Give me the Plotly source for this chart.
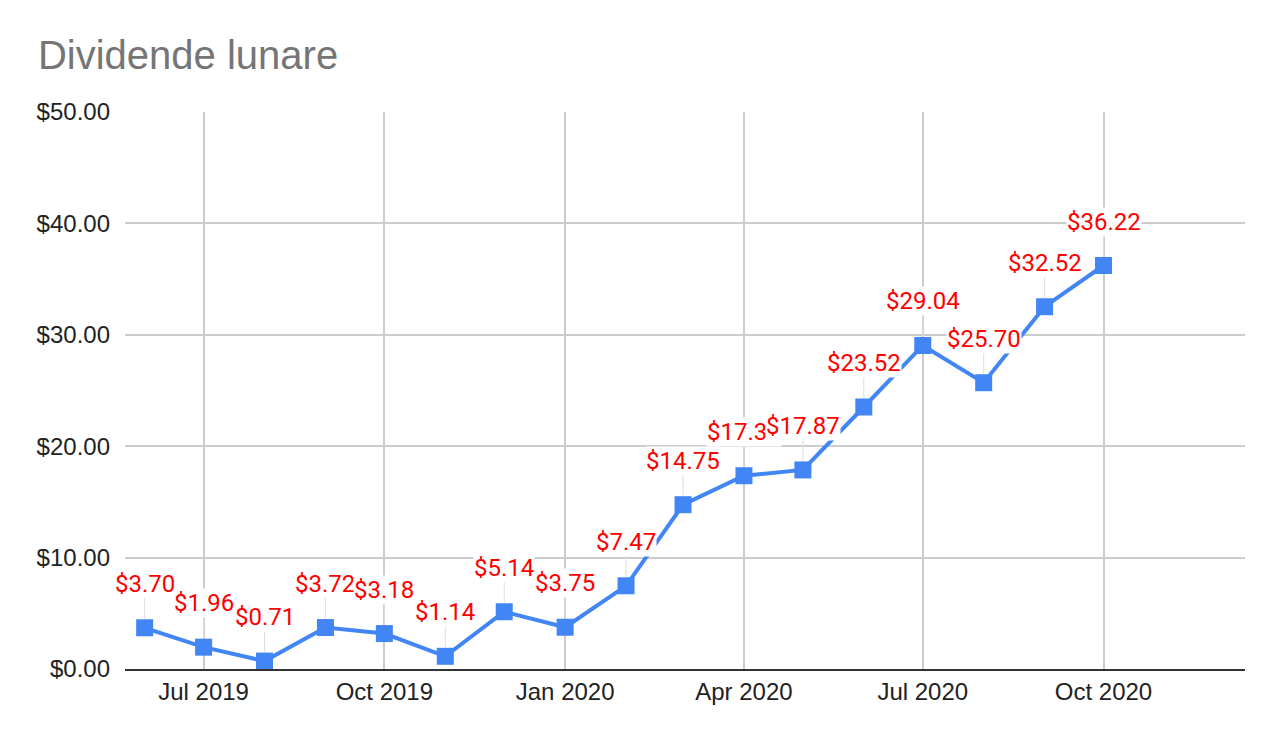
import plotly.graph_objects as go

# monthly dividends
months = ["2019-06-01", "2019-07-01", "2019-08-01", "2019-09-01", "2019-10-01",
          "2019-11-01", "2019-12-01", "2020-01-01", "2020-02-01", "2020-03-01",
          "2020-04-01", "2020-05-01", "2020-06-01", "2020-07-01", "2020-08-01",
          "2020-09-01", "2020-10-01"]
dividends = [3.70, 1.96, 0.71, 3.72, 3.18, 1.14, 5.14, 3.75, 7.47, 14.75,
             17.35, 17.87, 23.52, 29.04, 25.70, 32.52, 36.22]

tick_dates = ["2019-07-01", "2019-10-01", "2020-01-01", "2020-04-01", "2020-07-01", "2020-10-01"]
tick_text = ["Jul 2019", "Oct 2019", "Jan 2020", "Apr 2020", "Jul 2020", "Oct 2020"]

fig = go.Figure()
fig.add_trace(go.Scatter(
    x=months,
    y=dividends,
    mode="lines+markers",
    line=dict(color="#4285F4", width=4),
    marker=dict(symbol="square", size=17, color="#4285F4"),
    hoverinfo="skip",
))

for d, v in zip(months, dividends):
    fig.add_annotation(
        x=d, y=v, text="${:.2f}".format(v),
        showarrow=True, arrowhead=0, arrowwidth=1, arrowcolor="#dedede",
        ax=0, ay=-44, standoff=9,
        bgcolor="white", borderpad=0,
        font=dict(family="Roboto", size=24, color="#ff0000"),
    )

# page body adds an 8px margin, so the figure is 8px smaller on each side
fig.update_layout(
    width=1274, height=734,
    margin=dict(l=117, r=37, t=104, b=73),
    paper_bgcolor="white", plot_bgcolor="white",
    title=dict(text="Dividende lunare", x=0.0235, xanchor="left", y=0.936, yanchor="middle",
               font=dict(family="Arial, Liberation Sans", size=40, color="#757575")),
    showlegend=False,
    font=dict(family="Arial, Liberation Sans", size=24, color="#222222"),
)
fig.update_xaxes(
    type="date", range=["2019-05-22", "2020-12-12"],
    tickvals=tick_dates, ticktext=tick_text,
    showgrid=True, gridcolor="#cccccc", gridwidth=1.5,
    showline=True, linecolor="#333333", linewidth=2,
    ticks="", ticklabelstandoff=0,
)
fig.update_yaxes(
    range=[0, 50], dtick=10, tickformat="$.2f",
    showgrid=True, gridcolor="#cccccc", gridwidth=1.5,
    zeroline=False, ticks="", ticklabelstandoff=14,
)

fig.write_html("out.html")
